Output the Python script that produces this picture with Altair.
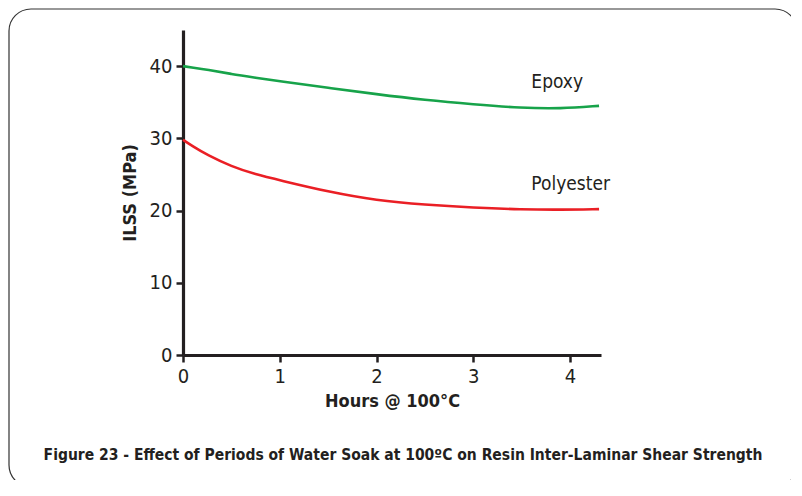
import altair as alt
import pandas as pd

# Data
hours = [0, 0.1, 0.25, 0.5, 0.75, 1.0, 1.5, 2.0, 2.5, 3.0, 3.5, 3.9, 4.3]
epoxy = [40.0, 39.8, 39.5, 38.9, 38.4, 37.9, 37.0, 36.1, 35.3, 34.7, 34.2, 34.1, 34.5]
polyester = [29.8, 28.9, 27.7, 26.1, 25.0, 24.2, 22.6, 21.4, 20.8, 20.4, 20.15, 20.1, 20.2]

series_names = ["Epoxy", "Polyester"]
series_colors = ["#17a34a", "#ea1f25"]
label_x = [3.6, 3.6]
label_y = [37.8, 23.7]

x_ticks = [0, 1, 2, 3, 4]
y_ticks = [0, 10, 20, 30, 40]

caption = "Figure 23 - Effect of Periods of Water Soak at 100\u00baC on Resin Inter-Laminar Shear Strength"

FONT = "Liberation Sans Narrow, DejaVu Sans Condensed, Roboto, sans-serif"

rows = []
for h, e, p in zip(hours, epoxy, polyester):
    rows.append({"hours": h, "ilss": e, "series": "Epoxy"})
    rows.append({"hours": h, "ilss": p, "series": "Polyester"})
df = pd.DataFrame(rows)
labels = pd.DataFrame({"series": series_names, "x": label_x, "y": label_y})

xscale = alt.Scale(domain=[0, 4.32], nice=False, zero=False)
yscale = alt.Scale(domain=[0, 45], nice=False)
color = alt.Color("series:N", scale=alt.Scale(domain=series_names, range=series_colors), legend=None)

frame = alt.Chart(pd.DataFrame({"a": [0]})).mark_rect(
    fill=None, stroke="#333333", strokeWidth=1.2, cornerRadius=22
).encode(x=alt.value(-174), x2=alt.value(614), y=alt.value(-21), y2=alt.value(457))

lines = alt.Chart(df).mark_line(strokeWidth=2.6, interpolate="basis").encode(
    x=alt.X("hours:Q", scale=xscale,
            axis=alt.Axis(values=x_ticks, title="Hours @ 100\u00b0C", format="d")),
    y=alt.Y("ilss:Q", scale=yscale,
            axis=alt.Axis(values=y_ticks, title="ILSS (MPa)", format="d")),
    color=color,
    detail="series:N",
)

text = alt.Chart(labels).mark_text(
    align="left", baseline="middle", font=FONT, fontSize=19, color="#231f20"
).encode(x=alt.X("x:Q", scale=xscale), y=alt.Y("y:Q", scale=yscale), text="series:N")

cap = alt.Chart(pd.DataFrame({"t": [caption]})).mark_text(
    align="center", baseline="middle", font=FONT, fontSize=15.5, fontWeight="bold", color="#231f20"
).encode(x=alt.value(220), y=alt.value(425), text="t:N")

chart = alt.layer(frame, lines, text, cap).properties(
    width=418, height=325,
    padding={"left": 175, "top": 22, "right": 190, "bottom": 125},
    autosize=alt.AutoSizeParams(type="none"),
).configure_view(stroke=None).configure_axis(
    grid=False,
    domainColor="#231f20", domainWidth=3.2,
    tickColor="#231f20", tickWidth=2.5, tickSize=7,
    labelFont=FONT, labelFontSize=20, labelColor="#231f20", labelPadding=4,
    titleFont=FONT, titleFontSize=18, titleFontWeight="bold", titleColor="#231f20",
).configure_axisX(titlePadding=6, labelFlush=False).configure_axisY(titlePadding=10)

chart.save("out.html", embed_options={"renderer": "svg", "actions": False})
